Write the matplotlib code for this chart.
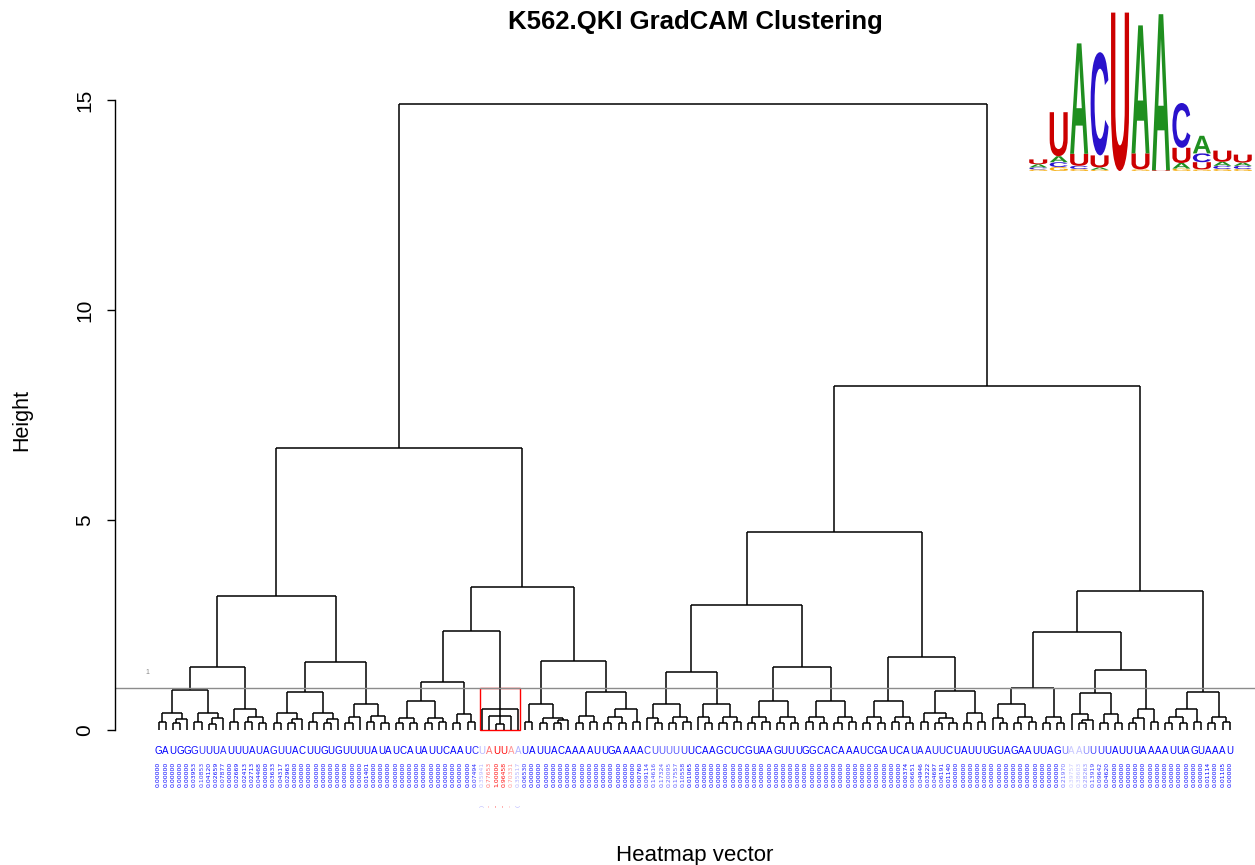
import re
import matplotlib
matplotlib.use("Agg")
import matplotlib.pyplot as plt
from matplotlib.colors import LinearSegmentedColormap
from matplotlib.textpath import TextPath
from matplotlib.font_manager import FontProperties
from matplotlib.patches import PathPatch, Rectangle
from matplotlib.transforms import Affine2D
from matplotlib.collections import LineCollection

plt.rcParams["font.family"] = ["Liberation Sans", "DejaVu Sans"]

TITLE = "K562.QKI GradCAM Clustering"
SEQUENCE = ("GAUGGGUUUAUUUAUAGUUACUUGUGUUUUAUAUCAUAUUCAAUCUAUUAAUAUUACAAAAUUGAAAAC"
            "UUUUUUCAAGCUCGUAAGUUUGGCACAAAUCGAUCAUAAUUCUAUUUGUAGAAUUAGUAAUUUUAUUUAAAAUUAGUAAAU")

# per-position GradCAM score (150 positions)
GRADCAM = [
    0.00000, 0.00000, 0.00000, 0.00000, 0.00000, 0.03953, 0.10853, 0.04120, 0.02659, 0.07877,
    0.00000, 0.02669, 0.02413, 0.02713, 0.04468, 0.00000, 0.03633, 0.04317, 0.02963, 0.00000,
    0.00000, 0.00000, 0.00000, 0.00000, 0.00000, 0.00000, 0.00000, 0.00000, 0.00000, 0.01401,
    0.00000, 0.00000, 0.00000, 0.00000, 0.00000, 0.00000, 0.00000, 0.00000, 0.00000, 0.00000,
    0.00000, 0.00000, 0.00000, 0.00000, 0.07494, 0.35941, 0.77653, 1.00000, 0.96458, 0.70331,
    0.35517, 0.06530, 0.00000, 0.00000, 0.00000, 0.00000, 0.00000, 0.00000, 0.00000, 0.00000,
    0.00000, 0.00000, 0.00000, 0.00000, 0.00000, 0.00000, 0.00000, 0.00760, 0.09114, 0.14616,
    0.17324, 0.20095, 0.17557, 0.10558, 0.01065, 0.00000, 0.00000, 0.00000, 0.00000, 0.00000,
    0.00000, 0.00000, 0.00000, 0.00000, 0.00000, 0.00000, 0.00000, 0.00000, 0.00000, 0.00000,
    0.00000, 0.00000, 0.00000, 0.00000, 0.00000, 0.00000, 0.00000, 0.00000, 0.00000, 0.00000,
    0.00000, 0.00000, 0.00000, 0.00000, 0.00374, 0.06651, 0.04946, 0.03222, 0.04697, 0.06191,
    0.01140, 0.00000, 0.00000, 0.00000, 0.00000, 0.00000, 0.00000, 0.00000, 0.00000, 0.00000,
    0.00000, 0.00000, 0.00000, 0.00000, 0.00000, 0.00000, 0.21970, 0.39757, 0.38603, 0.28263,
    0.13919, 0.09642, 0.04620, 0.00000, 0.00000, 0.00000, 0.00000, 0.00000, 0.00000, 0.00000,
    0.00000, 0.00000, 0.00000, 0.00000, 0.00000, 0.00000, 0.01114, 0.00000, 0.01105, 0.00000,
]

# Cluster tree: "x" is a leaf (numbered left to right), "(a,b,...)h" merges at height h
A = "((x,x).18,((x,x).16,x).26).40"
B = "((x,x).18,((x,x).15,x).28).40"
C = "((x,x).20,((x,x).18,(x,x).16).32).51"
D = "((x,x).17,((x,x).16,x).27).40"
E = "((x,x).18,((x,x).16,x).26).40"
F = "(((x,x).17,x).30,((x,x).18,(x,x).17).33).62"
G = "(((x,x).17,(x,x).17).29,((x,x).16,(x,x).18).29).69"
H = "((x,x).17,(x,x).18).38"
MOTIF = "(x,(x,(x,x).14,x).33,x).49"
I = "((x,x).18,((x,x).17,((x,x).16,x).24).29).63"
J = "(((x,x).17,(x,x).18).34,(((x,x).16,(x,x).17).30,(x,x).18).49).90"
K1 = "((x,(x,x).16).28,((x,x).17,(x,x).18).30).63"
K2 = "((x,(x,x).17).30,((x,x).16,(x,x).18).31).62"
M1 = "(((x,x).17,(x,x).18).30,((x,x).16,(x,x).17).30).69"
M2 = "(((x,x).18,(x,x).16).31,((x,x).17,(x,x).18).30).69"
N1 = "(((x,x).17,(x,x).16).31,((x,x).18,(x,x).17).30).69"
N2 = "(((x,x).18,((x,x).16,(x,x).17).28).41,((x,x).17,(x,x).18).41).93"
Q1 = "((x,(x,x).16).28,((x,x).17,(x,x).18).31).63"
Q2 = "((x,x).17,(x,x).16).30"
T1 = "((x,((x,x).16,x).25).38,((x,x).17,(x,x).16).38).87"
T2 = "(((x,x).17,x).28,(x,x).18).49"
U1 = "(((x,x).17,(x,x).16).30,(x,x).18).49"
U2 = "((x,x).16,(x,x).18).30"

LEFT = (f"((({A},{B}).95,{C})1.50,(({D},{E}).90,{F})1.62)3.19,"
        f"((({G},{H})1.15,{MOTIF})2.36,({I},{J})1.64)3.40")
RIGHT = (f"((({K1},{K2})1.37,({M1},{M2})1.50)2.98,({N1},{N2})1.74)4.71,"
         f"((({Q1},{Q2})1.01,({T1},{T2})1.43)2.33,({U1},{U2}).90)3.31")
TREE = f"(({LEFT})6.71,({RIGHT})8.19)14.9"

CUT_HEIGHT = 1.0
Y_TICKS = [0, 5, 10, 15]

# sequence logo: per position (letter, bits)
LOGO = [
    [("U", .06), ("A", .04), ("C", .025), ("G", .02)],
    [("U", .55), ("A", .075), ("C", .06), ("G", .05)],
    [("A", 1.38), ("U", .15), ("C", .04), ("G", .025)],
    [("C", 1.29), ("U", .15), ("A", .03), ("G", .015)],
    [("U", 1.98)],
    [("A", 1.60), ("U", .20), ("G", .02)],
    [("A", 1.95), ("U", .01)],
    [("C", .56), ("U", .19), ("A", .07), ("G", .03)],
    [("A", .22), ("C", .11), ("U", .09), ("G", .02)],
    [("U", .14), ("A", .05), ("C", .04), ("G", .025)],
    [("U", .10), ("C", .04), ("A", .04), ("G", .025)],
]
LOGO_COLORS = {"A": "#1f8f1f", "C": "#2a12cc", "G": "#f5a800", "U": "#cc0000"}


def parse_tree(text):
    pos = 0
    leaf = 0

    def node():
        nonlocal pos, leaf
        if text[pos] == "x":
            pos += 1
            leaf += 1
            i = leaf - 1
            return {"x": float(i), "h": 0.0, "kids": [], "lo": i, "hi": i}
        pos += 1
        kids = [node()]
        while text[pos] == ",":
            pos += 1
            kids.append(node())
        pos += 1  # ")"
        m = re.match(r"[0-9.]+", text[pos:])
        pos += len(m.group())
        return {"x": (kids[0]["x"] + kids[-1]["x"]) / 2, "h": float(m.group()),
                "kids": kids, "lo": kids[0]["lo"], "hi": kids[-1]["hi"]}

    return node()


def segments(nd, out):
    if not nd["kids"]:
        return
    out.append([(nd["kids"][0]["x"], nd["h"]), (nd["kids"][-1]["x"], nd["h"])])
    for k in nd["kids"]:
        out.append([(k["x"], k["h"]), (k["x"], nd["h"])])
        segments(k, out)


def find_cut_cluster(nd, leaf):
    # the cluster containing `leaf` when the tree is cut at CUT_HEIGHT
    if nd["h"] < CUT_HEIGHT:
        return nd
    for k in nd["kids"]:
        if k["lo"] <= leaf <= k["hi"]:
            return find_cut_cluster(k, leaf)


root = parse_tree(TREE)
n = len(SEQUENCE)

W, H = 1255, 865
fig = plt.figure(figsize=(W / 100, H / 100), dpi=100)
ax = fig.add_axes([115 / W, (H - 730) / H, 1140 / W, 651 / H])
ax.set_xlim(-6.05, 152.5)
ax.set_ylim(0, 15.5)

segs = []
segments(root, segs)
ax.add_collection(LineCollection(segs, colors="black", linewidths=1.1, clip_on=False))

ax.axhline(CUT_HEIGHT, color="#8c8c8c", lw=1.0)
ax.text(-1.6, CUT_HEIGHT + 0.38, "1", color="#888888", fontsize=5, ha="center", va="center")

cmap = LinearSegmentedColormap.from_list("blue_white_red", ["blue", "white", "red"])

# highlight the cluster that holds the top-scoring position
top = max(range(n), key=lambda i: GRADCAM[i])
cl = find_cut_cluster(root, top)
ax.add_patch(Rectangle((cl["lo"] - 0.34, 0), cl["hi"] - cl["lo"] + 0.67, CUT_HEIGHT,
                       fill=False, edgecolor="red", lw=1.0, clip_on=False))
for i in range(cl["lo"], cl["hi"] + 1):
    mark = ")" if i == cl["lo"] else ("(" if i == cl["hi"] else "-")
    ax.annotate(mark, xy=(i, 0), xytext=(0, -55), textcoords="offset points",
                ha="center", va="center", rotation=90, fontsize=4.5,
                color=cmap(GRADCAM[i]), annotation_clip=False)

for s in ["top", "right", "bottom"]:
    ax.spines[s].set_visible(False)
ax.spines["left"].set_bounds(0, 15)
ax.spines["left"].set_linewidth(1.0)
ax.set_xticks([])
ax.set_yticks(Y_TICKS)
ax.set_yticklabels([str(t) for t in Y_TICKS], rotation=90, va="center")
ax.tick_params(axis="y", length=6, width=1.0, pad=9, labelsize=15)

for i, (ch, v) in enumerate(zip(SEQUENCE, GRADCAM)):
    col = cmap(v)
    ax.annotate(ch, xy=(i, 0), xytext=(0, -15), textcoords="offset points",
                ha="center", va="center", fontsize=7, color=col, annotation_clip=False)
    ax.annotate(f"{v:.5f}", xy=(i, 0), xytext=(0, -23), textcoords="offset points",
                ha="center", va="top", rotation=90, fontsize=4.4, color=col,
                family="DejaVu Sans", annotation_clip=False)

fig.text(695 / W, 1 - 22 / H, TITLE, ha="center", va="center", fontsize=18.5, weight="bold")
fig.text(695 / W, 1 - 855 / H, "Heatmap vector", ha="center", va="center", fontsize=16)
fig.text(22 / W, 1 - 420 / H, "Height", ha="center", va="center", fontsize=15.5, rotation=90)

# sequence logo
lax = fig.add_axes([1028 / W, (H - 171) / H, 225 / W, 164 / H])
lax.set_xlim(0.5, len(LOGO) + 0.5)
lax.set_ylim(0, 2.05)
lax.axis("off")
fp = FontProperties(family="Liberation Sans", weight="bold")
for p, stack in enumerate(LOGO, start=1):
    y0 = 0.0
    for letter, bits in sorted(stack, key=lambda t: t[1]):
        tp = TextPath((0, 0), letter, size=1, prop=fp)
        bb = tp.get_extents()
        tr = (Affine2D().translate(-bb.x0, -bb.y0)
              .scale(0.88 / bb.width, bits / bb.height)
              .translate(p - 0.44, y0))
        lax.add_patch(PathPatch(tr.transform_path(tp), facecolor=LOGO_COLORS[letter],
                                edgecolor="none"))
        y0 += bits

fig.savefig("out.png", dpi=100)
